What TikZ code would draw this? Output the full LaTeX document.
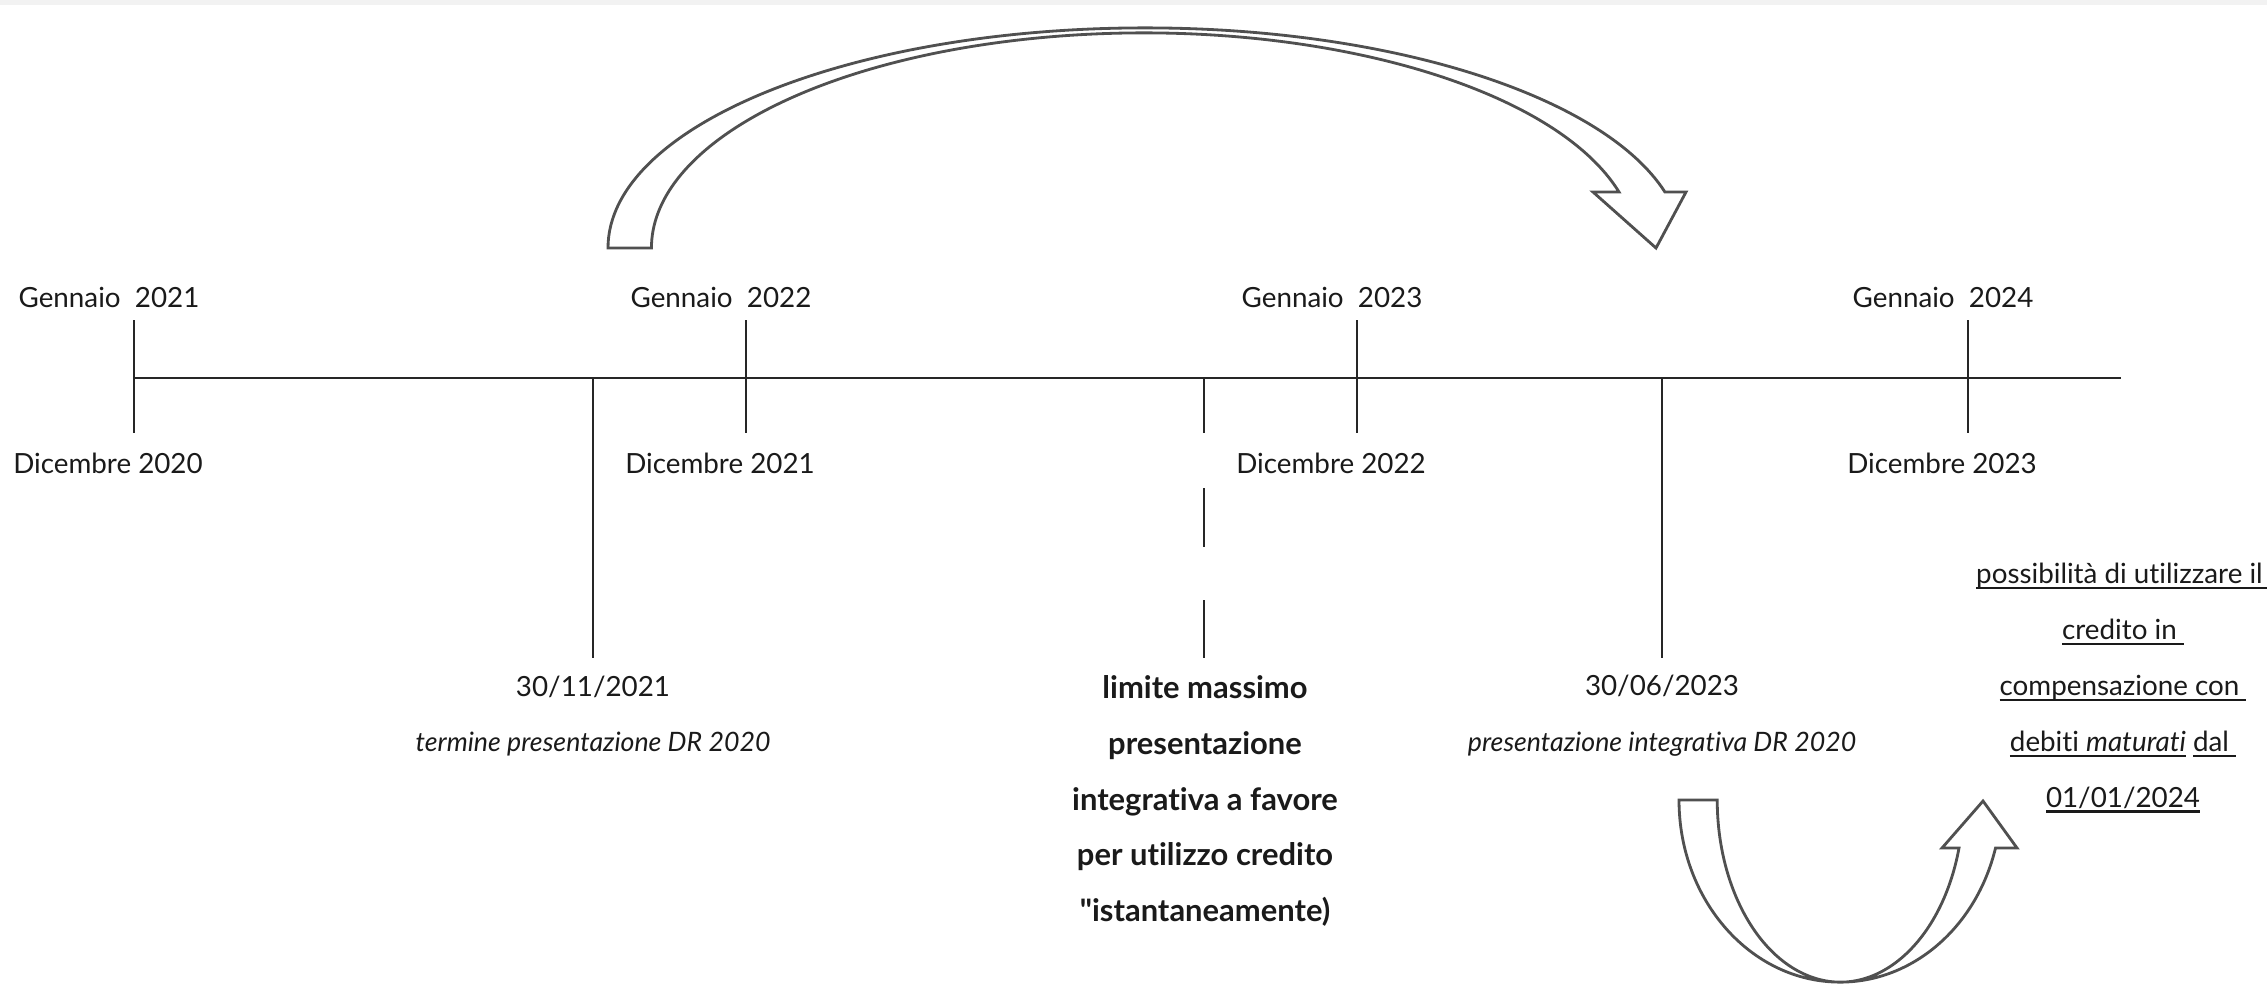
\documentclass[tikz,border=0pt]{standalone}
\usepackage{fontspec}
\setmainfont{Lato}[Ligatures={TeX,NoCommon}]
\definecolor{ink}{HTML}{1A1A1A}
\definecolor{linec}{HTML}{262626}
\definecolor{arrowc}{HTML}{505050}
\definecolor{topband}{HTML}{F2F2F2}
\newsavebox\myulbox
\newcommand\myul[1]{\sbox\myulbox{#1}\rlap{\rule[-1.6pt]{\wd\myulbox}{0.7pt}}\usebox\myulbox}
\newcommand\myit[1]{{\fontsize{7.6}{15.9}\selectfont\itshape #1}}
\begin{document}
\begin{tikzpicture}[x=0.01cm,y=-0.01cm,
  tl/.style={draw=linec, line width=0.8pt},
  lbl/.style={font=\fontsize{7.9}{15.9}\selectfont, text=ink, inner sep=0pt, align=center},
  boldlbl/.style={lbl, font=\fontsize{8.8}{15.9}\selectfont\bfseries},
  blockarrow/.style={draw=arrowc, line width=0.8pt, fill=white, line join=miter}]
\useasboundingbox (0,0) rectangle (2267,1005);
\fill[white] (0,0) rectangle (2267,1005);
\fill[topband] (0,0) rectangle (2267,5);

% main time line
\coordinate (L0) at (134,378);
\coordinate (L1) at (2121,378);
\draw[tl] (L0) -- (L1);

% year ticks and labels
\foreach \x/\g/\d/\n in {134/2021/2020/a, 746/2022/2021/b, 1357/2023/2022/c, 1968/2024/2023/d} {
  \coordinate (top\n) at (\x,320);
  \coordinate (bot\n) at (\x,433);
  \draw[tl] (top\n) -- (bot\n);
  \node[lbl] (gen\n) at (\x-25,297) {Gennaio~~\g};
  \node[lbl] (dic\n) at (\x-26,463) {Dicembre \d};
}

% 30/11/2021
\coordinate (n0) at (593,378);
\coordinate (n1) at (593,658);
\draw[tl] (n0) -- (n1);
\node[lbl] (nov) at (593,716) {30/11/2021\\\myit{termine presentazione DR 2020}};

% dashed limit
\coordinate (m0) at (1204,377);
\coordinate (m1) at (1204,658);
\draw[tl, dash pattern=on 0.56cm off 0.55cm on 0.59cm off 0.53cm on 0.58cm off 2cm] (m0) -- (m1);
\node[boldlbl] (lim) at (1205,801) {limite massimo\\presentazione\\integrativa a favore\\per utilizzo credito\\\textquotedbl istantaneamente)};

% 30/06/2023
\coordinate (j0) at (1662,378);
\coordinate (j1) at (1662,658);
\draw[tl] (j0) -- (j1);
\node[lbl] (jun) at (1662,716) {30/06/2023\\\myit{presentazione integrativa DR 2020}};

% right text
\node[lbl] (poss) at (2123,688) {\myul{possibilità di utilizzare il~}\\\myul{credito in~}\\\myul{compensazione con~}\\\myul{debiti \textit{maturati}} \myul{dal~}\\\myul{01/01/2024}};

% top curved block arrow
\draw[blockarrow] (608,248) arc[start angle=180, end angle=14.74, x radius=5.37cm, y radius=2.2cm]
  -- (1686,192) -- (1656,248) -- (1593,192) -- (1619,192)
  arc[start angle=15.10, end angle=180, x radius=4.92cm, y radius=2.15cm] -- cycle;

% bottom curved block arrow
\draw[blockarrow] (1679,800) arc[start angle=180, end angle=344.71, x radius=1.61cm, y radius=1.82cm]
  -- (2017,848) -- (1983,801) -- (1942,848) -- (1959,848)
  arc[start angle=344.71, end angle=180, x radius=1.23cm, y radius=1.82cm] -- cycle;
\end{tikzpicture}
\end{document}
